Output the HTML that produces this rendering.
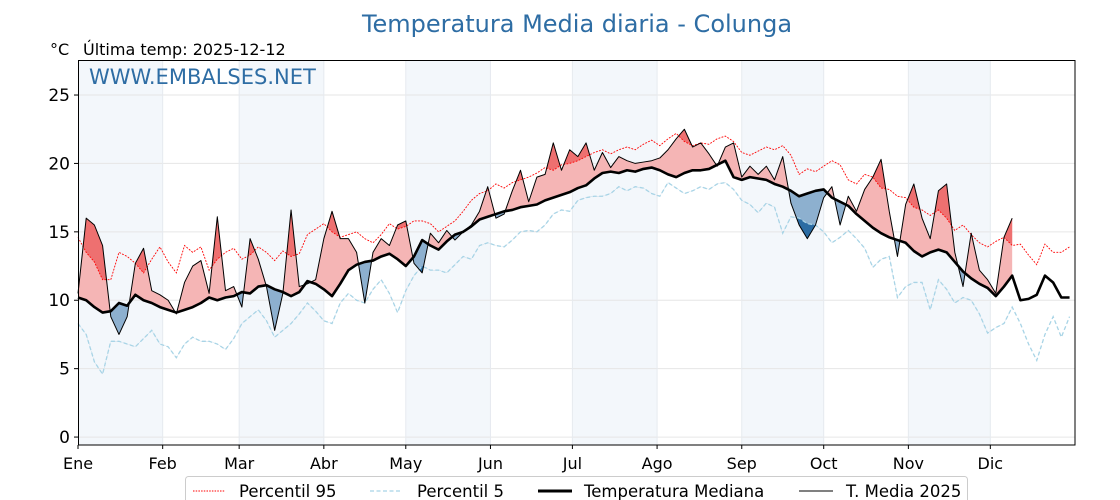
<!DOCTYPE html>
<html><head><meta charset="utf-8"><style>
html,body{margin:0;padding:0;background:#fff;}
svg{display:block;font-family:"DejaVu Sans","Liberation Sans",sans-serif;}
</style></head><body>
<svg id="chart" width="1120" height="500" viewBox="0 0 1120 500">
<text x="577" y="32" text-anchor="middle" font-size="24" fill="#2e6da4">Temperatura Media diaria - Colunga</text>
<text x="50" y="55" font-size="16" fill="#000">°C</text>
<text x="83" y="55" font-size="16" fill="#000">Última temp: 2025-12-12</text>
<g id="bands"></g>
<g id="grid"></g>
<g id="fills"></g>
<g id="lines"></g>
<rect x="78.5" y="60.5" width="996.5" height="384.5" fill="none" stroke="#000" stroke-width="1"/>
<text x="89" y="84" font-size="21" fill="#2e6da4">WWW.EMBALSES.NET</text>
<g id="axes"></g>
<g>
<rect x="185.5" y="476.5" width="782" height="30" rx="3" fill="#fff" stroke="#ccc"/>
<line x1="193" y1="491" x2="225" y2="491" stroke="red" stroke-width="0.9" stroke-dasharray="1.5,1.2"/>
<text x="239" y="497" font-size="16.5">Percentil 95</text>
<line x1="370" y1="491" x2="402" y2="491" stroke="#a8d4e6" stroke-width="1.3" stroke-dasharray="4,2.5"/>
<text x="417" y="497" font-size="16.5">Percentil 5</text>
<line x1="538" y1="491" x2="572" y2="491" stroke="#000" stroke-width="3"/>
<text x="584" y="497" font-size="16.5">Temperatura Mediana</text>
<line x1="799" y1="491" x2="833" y2="491" stroke="#000" stroke-width="1"/>
<text x="846" y="497" font-size="16.5">T. Media 2025</text>
</g>
</svg>
<script>
const STEP = 3;
const monthLabels = ["Ene","Feb","Mar","Abr","May","Jun","Jul","Ago","Sep","Oct","Nov","Dic"];
const monthStarts = [0,31,59,90,120,151,181,212,243,273,304,334];
const yTicks = [0,5,10,15,20,25];
const median = [10.2,10.0,9.5,9.1,9.2,9.8,9.6,10.4,10.0,9.8,9.5,9.3,9.1,9.3,9.5,9.8,10.2,10.0,10.2,10.3,10.6,10.5,11.0,11.1,10.8,10.6,10.3,10.6,11.4,11.2,10.8,10.3,11.2,12.2,12.6,12.8,12.9,13.2,13.4,13.0,12.5,13.2,14.4,14.0,13.7,14.3,14.8,15.0,15.4,15.9,16.1,16.3,16.5,16.6,16.8,16.9,17.0,17.3,17.5,17.7,17.9,18.2,18.4,18.9,19.3,19.4,19.3,19.5,19.4,19.6,19.7,19.5,19.2,19.0,19.3,19.5,19.5,19.6,19.9,20.2,19.0,18.8,19.0,18.9,18.8,18.5,18.3,18.0,17.6,17.8,18.0,18.1,17.5,17.2,16.9,16.3,15.8,15.3,14.9,14.6,14.4,14.2,13.6,13.2,13.5,13.7,13.5,12.8,12.1,11.6,11.2,10.9,10.3,11.0,11.8,10.0,10.1,10.4,11.8,11.3,10.2,10.2];
const p95 = [14.6,13.5,12.8,11.5,11.5,13.5,13.2,12.7,12.0,13.0,13.9,12.8,12.0,14.0,13.5,13.9,12.2,13.0,13.5,13.8,13.0,13.3,13.9,13.5,12.9,13.6,13.2,13.4,14.8,15.2,15.6,15.0,14.6,14.8,15.0,14.5,14.2,14.8,15.6,15.2,15.4,15.8,15.8,15.6,15.0,15.4,15.8,16.5,17.3,17.8,18.0,18.5,18.2,18.6,18.8,19.0,19.3,19.7,19.5,19.9,20.0,20.2,20.5,20.8,21.0,20.7,21.0,21.2,21.0,21.4,21.7,21.3,21.8,22.2,21.6,21.3,21.5,21.4,21.8,22.0,21.6,20.8,20.6,20.9,21.2,21.0,21.3,20.6,19.2,19.6,19.4,19.8,20.2,19.9,18.8,18.5,19.2,19.0,18.2,18.1,17.6,17.5,16.8,16.6,16.2,16.6,16.0,15.1,15.5,14.8,14.2,13.9,14.3,14.6,14.0,14.1,13.3,12.6,14.1,13.5,13.5,13.9];
const p5 = [8.3,7.5,5.5,4.6,7.0,7.0,6.8,6.6,7.2,7.8,6.8,6.6,5.8,6.8,7.3,7.0,7.0,6.8,6.4,7.2,8.3,8.8,9.3,8.5,7.3,7.8,8.3,9.0,9.8,9.2,8.5,8.3,9.8,10.5,10.0,9.8,10.8,11.5,10.5,9.1,10.7,11.8,12.5,12.2,12.2,12.0,12.6,13.2,13.0,14.0,14.2,14.0,13.9,14.4,15.0,15.1,15.0,15.5,16.3,16.6,16.5,17.3,17.5,17.6,17.6,17.8,18.3,18.0,18.3,18.2,17.8,17.6,18.6,18.2,17.8,18.0,18.3,18.1,18.5,18.6,18.1,17.3,17.0,16.4,17.1,16.8,14.9,16.1,16.0,15.6,15.5,15.0,14.2,14.6,15.1,14.5,13.8,12.4,13.0,13.2,10.2,11.0,11.3,11.3,9.3,11.5,10.8,9.8,10.2,10.0,9.0,7.6,8.0,8.3,9.5,8.3,6.8,5.6,7.5,8.8,7.3,8.8];
const tmedia = [10.5,16.0,15.5,14.0,8.8,7.5,8.8,12.7,13.8,10.7,10.4,10.0,9.0,11.3,12.5,12.9,10.5,16.1,10.7,11.0,9.5,14.5,13.0,11.0,7.8,10.5,16.6,11.0,11.2,11.5,14.5,16.5,14.5,14.5,13.5,9.8,13.5,14.5,14.0,15.5,15.8,12.7,12.0,14.9,14.2,15.1,14.4,15.0,15.5,16.5,18.3,16.0,16.3,18.0,19.5,17.2,19.0,19.2,21.5,19.5,21.0,20.5,21.5,19.5,20.8,19.7,20.5,20.2,20.0,20.1,20.2,20.4,21.0,21.8,22.5,21.2,21.5,20.7,19.8,21.2,21.5,19.0,19.8,19.2,19.8,18.8,20.5,17.1,15.5,14.5,15.5,17.5,18.3,15.5,17.6,16.5,18.1,19.0,20.3,16.5,13.2,17.0,18.5,16.0,14.5,18.0,18.5,13.5,11.0,14.9,12.2,11.5,10.5,14.6,16.0];

const NS = "http://www.w3.org/2000/svg";
const X0 = 78, X1 = 1075, Y0 = 60, Y1 = 445;
const dMin = 0, dMax = 365, vMin = -0.58, vMax = 27.56;
function xs(d){ return X0 + (d - dMin) / (dMax - dMin) * (X1 - X0); }
function ys(v){ return Y1 - (v - vMin) / (vMax - vMin) * (Y1 - Y0); }
function mk(tag, attrs, parent){ const e = document.createElementNS(NS, tag); for (const k in attrs) e.setAttribute(k, attrs[k]); parent.appendChild(e); return e; }
function pts(arr){ return arr.map((v,i)=>xs(i*STEP).toFixed(2)+","+ys(v).toFixed(2)); }

const svg = document.getElementById("chart");
const bands = document.getElementById("bands"), grid = document.getElementById("grid");
const fills = document.getElementById("fills"), lines = document.getElementById("lines"), axes = document.getElementById("axes");

// alternating month bands
for (let m = 0; m < 12; m += 2) {
  const a = xs(monthStarts[m]), b = xs(monthStarts[m+1]);
  const r = mk("rect", {x:a, y:Y0, width:b-a, height:Y1-Y0, fill:"#f3f7fb"}, bands);
  
  
}
// grid
yTicks.forEach(t => {
  const l = mk("line", {x1:X0, x2:X1, y1:ys(t), y2:ys(t), stroke:"#e6e6e6", "stroke-width":1}, grid);
  
  
  const tk = mk("line", {x1:X0-4, x2:X0, y1:ys(t), y2:ys(t), stroke:"#000"}, axes);
  
  
  const tx = mk("text", {x:X0-8, y:ys(t)+6, "text-anchor":"end", "font-size":"17"}, axes);
  tx.textContent = t;
  
  
});
monthStarts.forEach((d,i) => {
  if (i > 0) {
    const l = mk("line", {x1:xs(d), x2:xs(d), y1:Y0, y2:Y1, stroke:"#e6eaef", "stroke-width":1}, grid);
    
    
  }
  const tk = mk("line", {x1:xs(d), x2:xs(d), y1:Y1, y2:Y1+4, stroke:"#000"}, axes);
  
  
  const tx = mk("text", {x:xs(d), y:469, "text-anchor":"middle", "font-size":"16"}, axes);
  tx.textContent = monthLabels[i];
  
  
});

// clip paths
const defs = mk("defs", {}, svg);
function clipFor(id, arr, above){
  const cp = mk("clipPath", {id:id}, defs);
  const p = pts(arr);
  const lastX = xs((arr.length-1)*STEP);
  const edge = above ? Y0-5 : Y1+5;
  mk("polygon", {points: p.join(" ") + " " + lastX + "," + edge + " " + xs(0) + "," + edge}, cp);
}
clipFor("aboveMed", median, true);
clipFor("belowMed", median, false);
clipFor("aboveP95", p95, true);
clipFor("belowP5", p5, false);

const n = tmedia.length;
function between(a, b){
  const pa = pts(a.slice(0,n)), pb = pts(b.slice(0,n)).reverse();
  return pa.concat(pb).join(" ");
}
const fRed = mk("polygon", {points:between(tmedia, median), fill:"#f5b5b5", "clip-path":"url(#aboveMed)"}, fills);


const fBlue = mk("polygon", {points:between(tmedia, median), fill:"#8db0cf", "clip-path":"url(#belowMed)"}, fills);


const fRed2 = mk("polygon", {points:between(tmedia, p95), fill:"#ee7070", "clip-path":"url(#aboveP95)"}, fills);


const fBlue2 = mk("polygon", {points:between(tmedia, p5), fill:"#2b6ca3", "clip-path":"url(#belowP5)"}, fills);



const lp95 = mk("polyline", {points:pts(p95).join(" "), fill:"none", stroke:"red", "stroke-width":0.9, "stroke-dasharray":"1.8,1.4"}, lines);


const lp5 = mk("polyline", {points:pts(p5).join(" "), fill:"none", stroke:"#a8d4e6", "stroke-width":1.3, "stroke-dasharray":"4,2.5"}, lines);


const lmed = mk("polyline", {points:pts(median).join(" "), fill:"none", stroke:"#000", "stroke-width":2.6, "stroke-linejoin":"round"}, lines);


const lt = mk("polyline", {points:pts(tmedia).join(" "), fill:"none", stroke:"#000", "stroke-width":1, "stroke-linejoin":"round"}, lines);


</script>
</body></html>
